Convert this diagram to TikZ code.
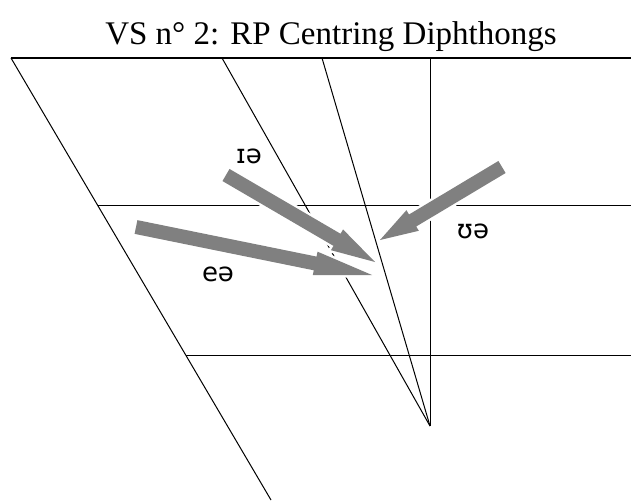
\documentclass[tikz,border=0pt]{standalone}
\usepackage{fontspec}
\setmainfont{Liberation Serif}
\newfontfamily\ipafont{DejaVu Sans}
\usetikzlibrary{calc}
\definecolor{arrowgray}{RGB}{128,128,128}
\tikzset{
  chart line/.style={line width=1pt},
  glide arrow/.style={fill=arrowgray,preaction={draw=white,line width=5pt,line join=round}},
  vowel label/.style={font=\ipafont\fontsize{26}{26}\selectfont,anchor=base,inner sep=0pt}
}
% block arrow: tail, tip, head length
\newcommand{\glidearrow}[3]{%
  \coordinate (#2-base) at ($(#2)!#3!(#1)$);
  \fill[glide arrow] ($(#1)!7pt!90:(#2)$) -- ($(#2-base)!7pt!90:(#2)$)
    -- ($(#2-base)!12pt!90:(#2)$) -- (#2) -- ($(#2-base)!12pt!-90:(#2)$)
    -- ($(#2-base)!7pt!-90:(#2)$) -- ($(#1)!7pt!-90:(#2)$) -- cycle;}

\begin{document}
\begin{tikzpicture}[x=1pt,y=-1pt]
        \useasboundingbox (0,0) rectangle (631,500);
        \node[anchor=base,inner sep=0pt,font=\fontsize{33}{33}\selectfont] (title) at (331,45) {VS n° 2: RP Centring Diphthongs};
        % vowel chart
        \coordinate (tl) at (11,58);
        \coordinate (tr) at (631,58);
        \coordinate (bl) at (271,500);
        \coordinate (ml) at ($(tl)!0.3348!(bl)$);
        \coordinate (lol) at ($(tl)!0.6742!(bl)$);
        \coordinate (c1) at (222,58);
        \coordinate (c2) at (322,58);
        \coordinate (c3) at (430,58);
        \coordinate (apex) at (430,426);
        \draw [line width=1.6pt] (tl) -- (tr);
        \draw [chart line] (tl) -- (bl);
        \draw [chart line] (ml) -- (ml -| tr);
        \draw [chart line] (lol) -- (lol -| tr);
        \draw [chart line] (c1) -- (apex);
        \draw [chart line] (c2) -- (apex);
        \draw [chart line] (c3) -- (apex);
        % glides to schwa
        \coordinate (ia-start) at (226,175);
        \coordinate (ia-end) at (375,262);
        \coordinate (ea-start) at (136,227);
        \coordinate (ea-end) at (372,275);
        \coordinate (ua-start) at (502,167);
        \coordinate (ua-end) at (380,240);
        \glidearrow{ia-start}{ia-end}{44pt}
        \glidearrow{ea-start}{ea-end}{58pt}
        \glidearrow{ua-start}{ua-end}{38pt}
        \node[vowel label] (ia) at (249,163) {ɪə};
        \node[vowel label] (ea) at (218,281) {eə};
        \node[vowel label] (ua) at (473,238) {ʊə};
\end{tikzpicture}
\end{document}
